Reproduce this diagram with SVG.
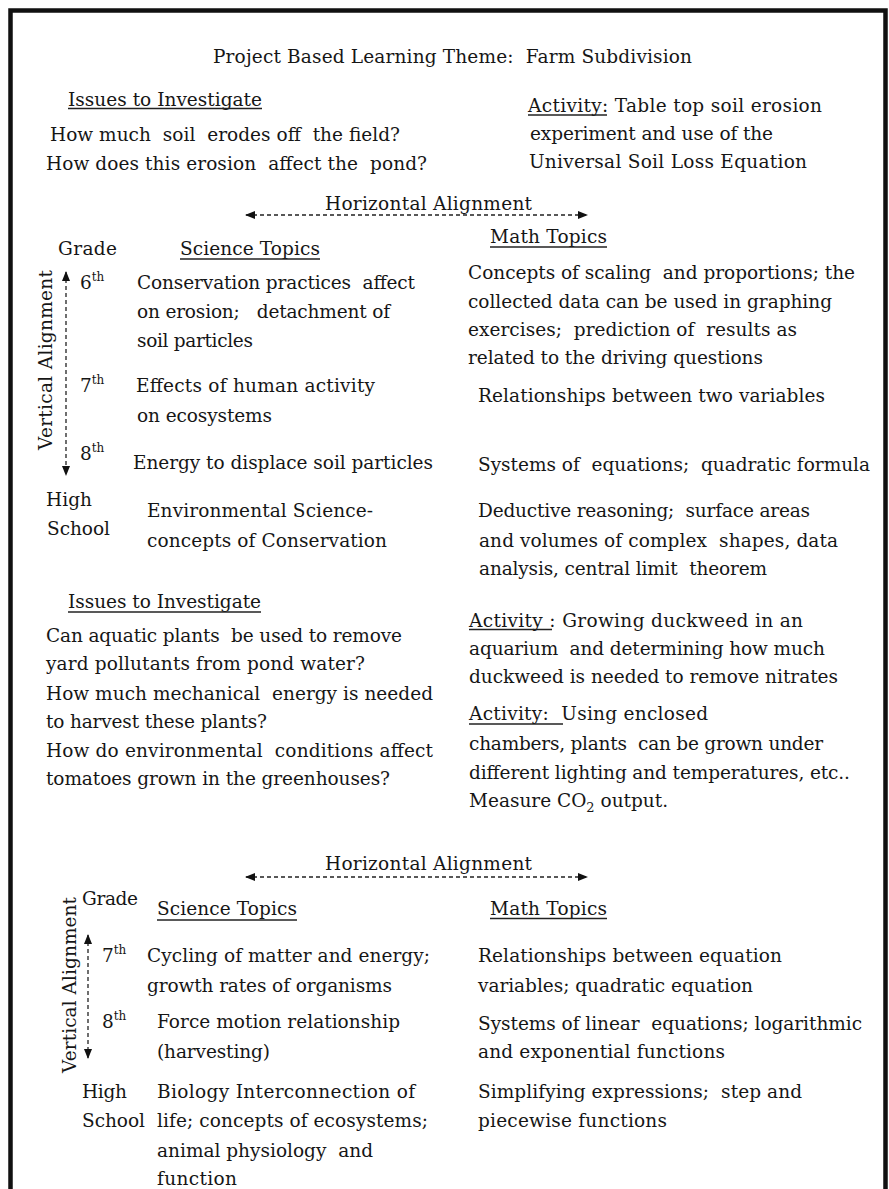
<svg xmlns="http://www.w3.org/2000/svg" width="889" height="1189" viewBox="0 0 889 1189">
<defs>
<style>
text{font-family:"DejaVu Serif","Liberation Serif",serif;font-size:18.5px;fill:#161616;white-space:pre}
.ul{stroke:#222;stroke-width:1.3}
.dash{stroke:#222;stroke-width:1.3;stroke-dasharray:4 3;fill:none}
.sup{font-size:12px}
</style>
<marker id="ah" viewBox="0 0 10 8" refX="9" refY="4" markerWidth="10" markerHeight="8" markerUnits="userSpaceOnUse" orient="auto-start-reverse">
<path d="M0,0 L10,4 L0,8 Z" fill="#111"/>
</marker>
</defs>
<rect width="889" height="1189" fill="#fff"/>
<path d="M10.5,1189 V10.5 H885.5 V1189" fill="none" stroke="#111" stroke-width="4.5"/>

<g id="title"><text x="213" y="63" textLength="479">Project Based Learning Theme:  Farm Subdivision</text></g>

<g id="issues1">
<text x="68" y="106" textLength="194">Issues to Investigate</text>
<line class="ul" x1="68" y1="108.5" x2="262" y2="108.5"/>
<text x="50" y="141" textLength="350">How much  soil  erodes off  the field?</text>
<text x="46" y="170" textLength="381">How does this erosion  affect the  pond?</text>
</g>

<g id="activity1">
<text x="528" y="112" textLength="294">Activity: Table top soil erosion</text>
<line class="ul" x1="528" y1="115" x2="607" y2="115"/>
<text x="530" y="140" textLength="243">experiment and use of the</text>
<text x="529" y="168" textLength="278">Universal Soil Loss Equation</text>
</g>

<g id="halign1"><text x="325" y="210" textLength="207">Horizontal Alignment</text></g>
<g id="valign1"><text transform="translate(52,450) rotate(-90)" x="0" y="0" textLength="180">Vertical Alignment</text></g>

<g id="headers1">
<text x="58" y="255" textLength="59">Grade</text>
<text x="180" y="255" textLength="140">Science Topics</text>
<line class="ul" x1="180" y1="259" x2="320" y2="259"/>
<text x="490" y="243" textLength="117">Math Topics</text>
<line class="ul" x1="490" y1="247" x2="607" y2="247"/>
</g>

<g id="grade6">
<text x="80" y="289">6<tspan class="sup" dy="-8">th</tspan></text>
<text x="137" y="289" textLength="278">Conservation practices  affect</text>
<text x="137" y="318" textLength="253">on erosion;   detachment of</text>
<text x="137" y="347" textLength="116">soil particles</text>
<text x="468" y="279" textLength="387">Concepts of scaling  and proportions; the</text>
<text x="468" y="308" textLength="364">collected data can be used in graphing</text>
<text x="468" y="336" textLength="329">exercises;  prediction of  results as</text>
<text x="468" y="364" textLength="295">related to the driving questions</text>
</g>

<g id="grade7">
<text x="80" y="392">7<tspan class="sup" dy="-8">th</tspan></text>
<text x="136" y="392" textLength="239">Effects of human activity</text>
<text x="137" y="422" textLength="135">on ecosystems</text>
<text x="478" y="402" textLength="347">Relationships between two variables</text>
</g>

<g id="grade8">
<text x="80" y="460">8<tspan class="sup" dy="-8">th</tspan></text>
<text x="133" y="469" textLength="300">Energy to displace soil particles</text>
<text x="478" y="471" textLength="392">Systems of  equations;  quadratic formula</text>
</g>

<g id="highschool1">
<text x="46" y="506" textLength="46">High</text>
<text x="47" y="535" textLength="63">School</text>
<text x="147" y="517" textLength="226">Environmental Science-</text>
<text x="147" y="547" textLength="240">concepts of Conservation</text>
<text x="478" y="517" textLength="332">Deductive reasoning;  surface areas</text>
<text x="479" y="547" textLength="359">and volumes of complex  shapes, data</text>
<text x="479" y="575" textLength="288">analysis, central limit  theorem</text>
</g>

<g id="issues2">
<text x="68" y="608" textLength="193">Issues to Investigate</text>
<line class="ul" x1="68" y1="612" x2="261" y2="612"/>
<text x="46" y="642" textLength="356">Can aquatic plants  be used to remove</text>
<text x="46" y="670" textLength="319">yard pollutants from pond water?</text>
<text x="46" y="700" textLength="387">How much mechanical  energy is needed</text>
<text x="46" y="728" textLength="221">to harvest these plants?</text>
<text x="46" y="757" textLength="387">How do environmental  conditions affect</text>
<text x="46" y="785" textLength="344">tomatoes grown in the greenhouses?</text>
</g>

<g id="activity2">
<text x="469" y="627" textLength="334">Activity : Growing duckweed in an</text>
<line class="ul" x1="469" y1="629.5" x2="552" y2="629.5"/>
<text x="469" y="655" textLength="356">aquarium  and determining how much</text>
<text x="469" y="683" textLength="369">duckweed is needed to remove nitrates</text>
</g>

<g id="activity3">
<text x="469" y="720" textLength="239">Activity:  Using enclosed</text>
<line class="ul" x1="469" y1="724" x2="563" y2="724"/>
<text x="469" y="750" textLength="354">chambers, plants  can be grown under</text>
<text x="469" y="779" textLength="381">different lighting and temperatures, etc..</text>
<text x="469" y="807">Measure CO<tspan font-size="13" dy="5">2</tspan><tspan dy="-5"> output.</tspan></text>
</g>

<g id="halign2"><text x="325" y="870" textLength="207">Horizontal Alignment</text></g>
<g id="valign2"><text transform="translate(76,1073) rotate(-90)" x="0" y="0" textLength="176">Vertical Alignment</text></g>

<g id="headers2">
<text x="82" y="905" textLength="56">Grade</text>
<text x="157" y="915" textLength="140">Science Topics</text>
<line class="ul" x1="157" y1="920" x2="297" y2="920"/>
<text x="490" y="915" textLength="117">Math Topics</text>
<line class="ul" x1="490" y1="918.5" x2="607" y2="918.5"/>
</g>

<g id="grade7b">
<text x="102" y="962">7<tspan class="sup" dy="-8">th</tspan></text>
<text x="147" y="962" textLength="283">Cycling of matter and energy;</text>
<text x="147" y="992" textLength="245">growth rates of organisms</text>
<text x="478" y="962" textLength="304">Relationships between equation</text>
<text x="478" y="992" textLength="275">variables; quadratic equation</text>
</g>

<g id="grade8b">
<text x="102" y="1028">8<tspan class="sup" dy="-8">th</tspan></text>
<text x="157" y="1028" textLength="243">Force motion relationship</text>
<text x="157" y="1058" textLength="113">(harvesting)</text>
<text x="478" y="1030" textLength="384">Systems of linear  equations; logarithmic</text>
<text x="478" y="1058" textLength="247">and exponential functions</text>
</g>

<g id="highschool2">
<text x="82" y="1098" textLength="45">High</text>
<text x="82" y="1127" textLength="63">School</text>
<text x="157" y="1098" textLength="258">Biology Interconnection of</text>
<text x="157" y="1127" textLength="271">life; concepts of ecosystems;</text>
<text x="157" y="1157" textLength="216">animal physiology  and</text>
<text x="157" y="1185" textLength="80">function</text>
<text x="478" y="1098" textLength="324">Simplifying expressions;  step and</text>
<text x="478" y="1127" textLength="189">piecewise functions</text>
</g>

<g id="connectors">
<line class="dash" x1="246" y1="215" x2="587" y2="215" marker-start="url(#ah)" marker-end="url(#ah)"/>
<line class="dash" x1="66" y1="272" x2="66" y2="475" marker-start="url(#ah)" marker-end="url(#ah)"/>
<line class="dash" x1="246" y1="877" x2="587" y2="877" marker-start="url(#ah)" marker-end="url(#ah)"/>
<line class="dash" x1="88" y1="935" x2="88" y2="1058" marker-start="url(#ah)" marker-end="url(#ah)"/>
</g>
</svg>
